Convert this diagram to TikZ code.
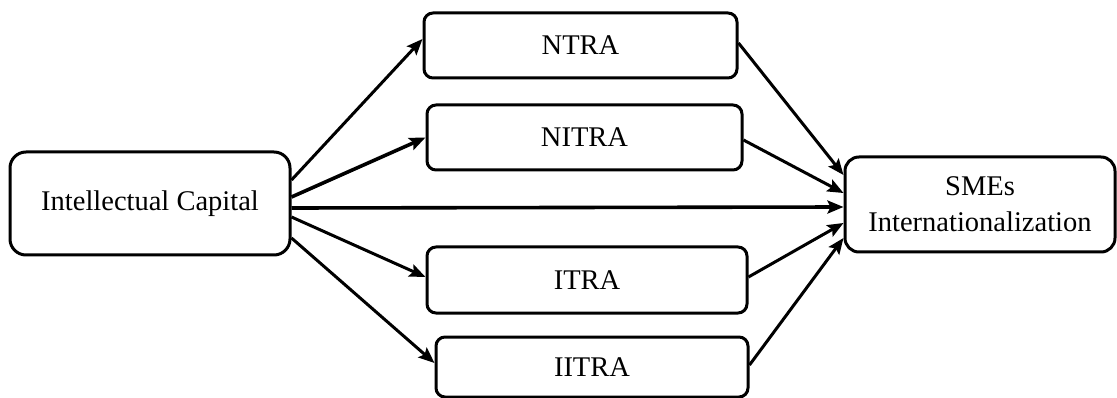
\documentclass[tikz,border=0pt]{standalone}
\usepackage{fontspec}
\setmainfont{Liberation Serif}
\usetikzlibrary{arrows.meta,calc}
\begin{document}
\begin{tikzpicture}[x=1pt,y=-1pt,
  box/.style={draw,line width=3pt,rounded corners=9pt,inner sep=0pt,align=center,font=\fontsize{28.5}{36}\selectfont},
  arr/.style={line width=3pt,-{Stealth[length=16pt,width=13pt,inset=3pt]}}]
\useasboundingbox (0,0) rectangle (1117,398);
\node[box,rounded corners=16pt,minimum width=280pt,minimum height=103pt] (IC) at (150,203.5) {Intellectual Capital};
\node[box,minimum width=313pt,minimum height=65pt] (NTRA) at (580.5,45.5) {NTRA};
\node[box,minimum width=315pt,minimum height=65pt] (NITRA) at (584.5,137.5) {NITRA};
\node[box,minimum width=320pt,minimum height=66pt] (ITRA) at (587,280) {ITRA};
\node[box,minimum width=312pt,minimum height=60pt] (IITRA) at (592,367) {IITRA};
\node[box,rounded corners=14pt,minimum width=270pt,minimum height=95pt] (SME) at (980,204.5) {SMEs\\Internationalization};
% left arrows
\draw[arr] ($(IC.east)+(0,-23.5)$) -- ($(NTRA.west)+(0,-6.5)$);
\draw[arr,line width=3.6pt] ($(IC.east)+(0,-6.5)$) -- ($(NITRA.west)+(0,0)$);
\draw[arr,line width=3.6pt] ($(IC.east)+(0,4.5)$) -- ($(SME.west)+(0,2.5)$);
\draw[arr] ($(IC.east)+(0,13.5)$) -- ($(ITRA.west)+(0,-3)$);
\draw[arr] ($(IC.east)+(0,34.5)$) -- ($(IITRA.west)+(0,-4)$);
% right arrows
\draw[arr] ($(NTRA.east)+(0,-2.5)$) -- ($(SME.west)+(0,-29.5)$);
\draw[arr] ($(NITRA.east)+(0,2.5)$) -- ($(SME.west)+(0,-11.5)$);
\draw[arr] ($(ITRA.east)+(0,-3)$) -- ($(SME.west)+(0,18.5)$);
\draw[arr] ($(IITRA.east)+(0,-2)$) -- ($(SME.west)+(0,33.5)$);
\end{tikzpicture}
\end{document}
